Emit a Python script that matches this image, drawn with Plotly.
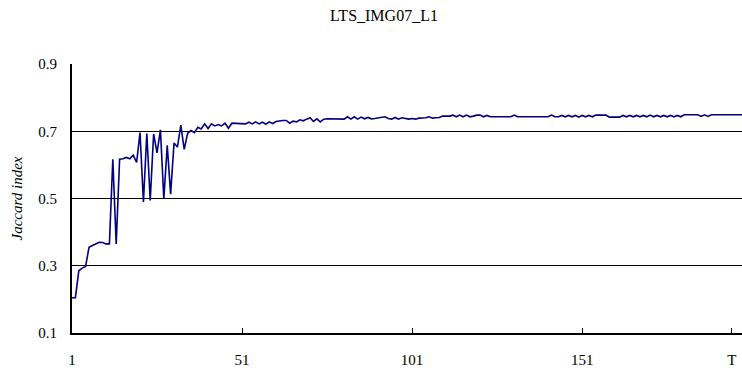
import plotly.graph_objects as go

title_text = "LTS_IMG07_L1"
y_title = "Jaccard index"
y_ticks = [0.1, 0.3, 0.5, 0.7, 0.9]
x_tick_vals = [1, 51, 101, 151, 195]
x_tick_text = ["1", "51", "101", "151", "T"]

jaccard = [
    0.205, 0.205, 0.285, 0.293, 0.298, 0.355, 0.360, 0.365, 0.370, 0.369,
    0.365, 0.365, 0.617, 0.365, 0.617, 0.618, 0.622, 0.618, 0.629, 0.607,
    0.696, 0.490, 0.693, 0.494, 0.692, 0.636, 0.704, 0.499, 0.658, 0.513,
    0.665, 0.653, 0.718, 0.646, 0.694, 0.702, 0.696, 0.712, 0.707, 0.722,
    0.708, 0.722, 0.716, 0.720, 0.716, 0.724, 0.709, 0.724, 0.724, 0.724,
    0.724, 0.722, 0.727, 0.722, 0.728, 0.722, 0.727, 0.721, 0.728, 0.723,
    0.729, 0.731, 0.732, 0.732, 0.724, 0.730, 0.728, 0.734, 0.731, 0.736,
    0.740, 0.729, 0.737, 0.728, 0.736, 0.737, 0.737, 0.737, 0.737, 0.735,
    0.736, 0.743, 0.736, 0.743, 0.736, 0.742, 0.737, 0.741, 0.737, 0.738,
    0.739, 0.740, 0.743, 0.738, 0.736, 0.741, 0.736, 0.740, 0.737, 0.736,
    0.738, 0.736, 0.739, 0.739, 0.740, 0.743, 0.739, 0.740, 0.741, 0.745,
    0.745, 0.745, 0.748, 0.743, 0.748, 0.743, 0.748, 0.743, 0.745, 0.748,
    0.748, 0.743, 0.747, 0.743, 0.743, 0.743, 0.743, 0.743, 0.743, 0.743,
    0.748, 0.743, 0.743, 0.743, 0.743, 0.743, 0.743, 0.743, 0.743, 0.743,
    0.743, 0.748, 0.743, 0.743, 0.747, 0.743, 0.747, 0.743, 0.747, 0.742,
    0.747, 0.743, 0.747, 0.743, 0.748, 0.748, 0.748, 0.748, 0.742, 0.742,
    0.742, 0.742, 0.747, 0.743, 0.747, 0.743, 0.747, 0.743, 0.747, 0.743,
    0.748, 0.743, 0.747, 0.743, 0.747, 0.743, 0.747, 0.743, 0.747, 0.743,
    0.749, 0.749, 0.749, 0.749, 0.749, 0.744, 0.749, 0.744, 0.749, 0.749,
    0.749, 0.749, 0.749, 0.749, 0.749, 0.749, 0.749, 0.749,
]
iterations = list(range(1, len(jaccard) + 1))

font_family = "Liberation Serif, Times New Roman, serif"

fig = go.Figure()
fig.add_trace(go.Scatter(
    x=iterations, y=jaccard, mode="lines",
    line=dict(color="#000080", width=1.6),
    showlegend=False, hoverinfo="skip",
))

fig.update_layout(
    width=742, height=372,
    margin=dict(l=72, r=0, t=64, b=39),
    paper_bgcolor="white", plot_bgcolor="white",
    font=dict(family=font_family, size=15, color="black"),
    title=dict(text=title_text, x=0.5175, xanchor="center", y=0.958, yanchor="middle",
               font=dict(family=font_family, size=16, color="black")),
)
fig.update_xaxes(
    range=[1, len(jaccard)],
    tickmode="array", tickvals=x_tick_vals, ticktext=x_tick_text,
    ticks="inside", ticklen=5, tickcolor="black", tickwidth=1,
    showgrid=False, zeroline=False,
    showline=True, linecolor="black", linewidth=2,
    ticklabelstandoff=12, ticklabeloverflow="allow",
    tickfont=dict(family=font_family, size=15),
)
fig.update_yaxes(
    range=[0.1, 0.9],
    tickmode="array", tickvals=y_ticks, ticktext=[f"{v:.1f}" for v in y_ticks],
    ticks="", showgrid=True, gridcolor="black", gridwidth=1,
    zeroline=False, showline=True, linecolor="black", linewidth=2,
    ticklabelstandoff=10,
    tickfont=dict(family=font_family, size=15),
    title=dict(text="<i>" + y_title + "</i>", standoff=12,
               font=dict(family=font_family, size=15)),
)

fig.write_html(
    "out.html",
    config={"displayModeBar": False, "staticPlot": True},
    post_script="document.body.style.margin='0';document.body.style.overflow='hidden';",
)
